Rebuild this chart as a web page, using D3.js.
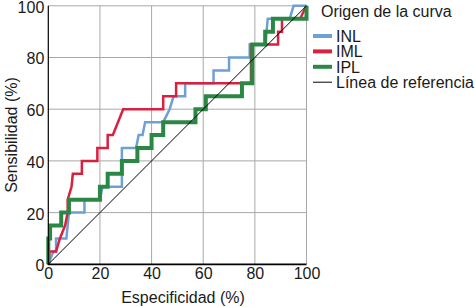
<!DOCTYPE html>
<html><head><meta charset="utf-8">
<script src="https://cdn.jsdelivr.net/npm/d3@7/dist/d3.min.js"></script>
<style>
html,body{margin:0;padding:0;background:#fff;}
svg{display:block;font-family:"Liberation Sans",Arial,sans-serif;}
</style></head>
<body><svg id="c" width="476" height="307"></svg>
<script>
const ticks = [0, 20, 40, 60, 80, 100];
const seriesNames = ["INL", "IML", "IPL"];
const seriesColors = ["#6e9fd6", "#d9213f", "#2b8744"];
// [especificidad, sensibilidad] steps
const inl = [[0,0],[2,5],[3,5],[3,10],[7,10],[7.5,15],[8,20],[14,20],[14,25],[20,25],[21,30],[28.5,30],[28.5,45],[34,45],[35,50],[36.5,50],[37.5,55],[44.5,55],[47,60],[48.5,65],[53,65],[53,70],[64,70],[64,75],[70,75],[70,80],[78,80],[78,85],[84,85],[85,95],[93.5,95],[95,100],[100,100]];
const iml = [[0,0],[0.5,5],[3,5],[4.5,10],[6.5,15],[7.5,20],[7.5,25],[9,30],[9.5,35],[13,35],[13,40],[19,40],[19,45],[23,45],[23,50],[25,50],[29,60],[44.5,60],[44.5,65],[49.5,65],[49.5,70],[78.5,70],[78.5,85],[89,85],[89,90],[90.5,90],[90.5,95],[97.5,95],[100,100]];
const ipl = [[0,0],[0,10],[0.7,10],[0.7,15],[5,15],[5,20],[8,20],[8,25],[20,25],[20,30],[23,30],[23,35],[28.5,35],[28.5,40],[34.5,40],[34.5,45],[40,45],[40,50],[44.5,50],[44.5,55],[57,55],[57,60],[61,60],[61,65],[75,65],[75,70],[79,70],[79,85],[84,85],[84,90],[87,90],[87,95],[100,95],[100,100]];
const refLine = [[0,0],[100,100]];
const legendTitle = "Origen de la curva";
const refName = "Línea de referencia";
const xTitle = "Especificidad (%)";
const yTitle = "Sensibilidad (%)";

const svg = d3.select("#c");
const x = d3.scaleLinear().domain([0,100]).range([48.3,306.5]);
const y = d3.scaleLinear().domain([0,100]).range([264.3,5.8]);
const font = 16, txt = "#1a1a1a";

// grid
const g = svg.append("g");
g.selectAll(".gx").data(ticks.slice(1)).join("line")
  .attr("x1", d=>x(d)).attr("x2", d=>x(d)).attr("y1", y(0)).attr("y2", y(100))
  .attr("stroke", "#a8a8a8").attr("stroke-width", 1);
g.selectAll(".gy").data(ticks.slice(1)).join("line")
  .attr("x1", x(0)).attr("x2", x(100)).attr("y1", d=>y(d)).attr("y2", d=>y(d))
  .attr("stroke", "#a8a8a8").attr("stroke-width", 1);

// axes
const xa = svg.append("g").attr("transform", `translate(0,${y(0)})`)
  .call(d3.axisBottom(x).tickValues(ticks).tickSize(0).tickPadding(3).tickFormat(d3.format("d")));
const ya = svg.append("g").attr("transform", `translate(${x(0)},0)`)
  .call(d3.axisLeft(y).tickValues(ticks).tickSize(0).tickPadding(4).tickFormat(d3.format("d")));
[xa, ya].forEach(a => {
  a.select(".domain").remove();
  a.selectAll("text").attr("font-size", font).attr("fill", txt).attr("font-family", '"Liberation Sans",Arial,sans-serif');
});
ya.selectAll("text").attr("dy", "0.4em");

// curves
const line = d3.line().x(d=>x(d[0])).y(d=>y(d[1]));
const plot = svg.append("g");
const data = [inl, iml, ipl];
const widths = [2.5, 2.5, 4];
data.forEach((s,i) => {
  plot.append("path").datum(s).attr("d", line).attr("fill","none")
    .attr("stroke", seriesColors[i]).attr("stroke-width", widths[i])
    .attr("stroke-linejoin","miter");
});
plot.append("path").datum(refLine).attr("d", line).attr("fill","none")
  .attr("stroke", "#000").attr("stroke-width", 1);

// axis lines
svg.append("line").attr("x1", x(0)).attr("x2", x(0)).attr("y1", y(100)).attr("y2", y(0))
  .attr("stroke", "#000").attr("stroke-width", 1.2);
svg.append("line").attr("x1", x(0)-0.5).attr("x2", x(100)).attr("y1", y(0)).attr("y2", y(0))
  .attr("stroke", "#000").attr("stroke-width", 1.8);

// axis titles
svg.append("text").attr("x", 183).attr("y", 303).attr("text-anchor","middle")
  .attr("font-size", font).attr("fill", txt).text(xTitle);
svg.append("text").attr("transform", `translate(17,${(y(0)+y(100))/2}) rotate(-90)`)
  .attr("text-anchor","middle").attr("font-size", font).attr("fill", txt).text(yTitle);

// legend
const lg = svg.append("g");
lg.append("text").attr("x", 321).attr("y", 17).attr("font-size", font).attr("fill", txt).text(legendTitle);
const items = seriesNames.map((n,i)=>({name:n, color:seriesColors[i], w:4})).concat([{name:refName, color:"#000", w:1}]);
const row = lg.selectAll(".it").data(items).join("g")
  .attr("transform", (d,i)=>`translate(0,${36 + i*15.4})`);
row.append("line").attr("x1", 313).attr("x2", 332).attr("y1", 0).attr("y2", 0)
  .attr("stroke", d=>d.color).attr("stroke-width", d=>d.w);
row.append("text").attr("x", 336).attr("y", 6).attr("font-size", font).attr("fill", txt).text(d=>d.name);
</script></body></html>
